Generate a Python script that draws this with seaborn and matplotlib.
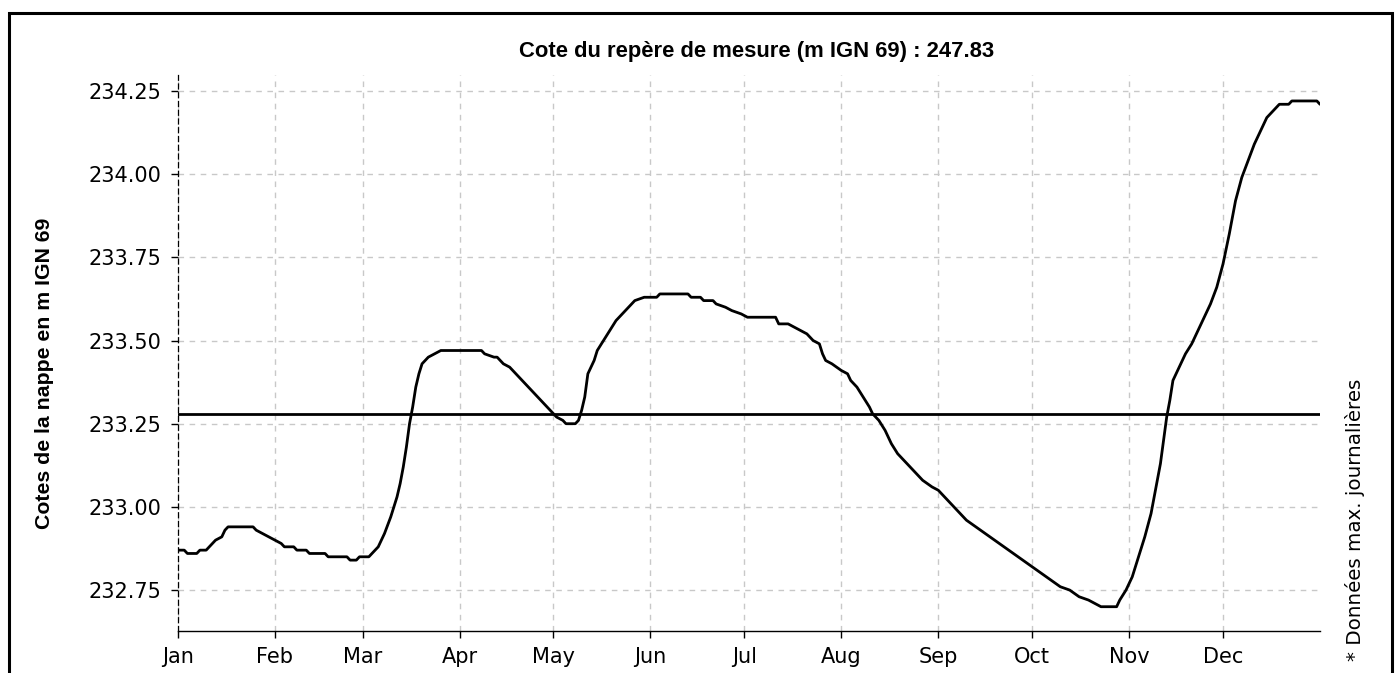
import pandas as pd
import numpy as np
import matplotlib
matplotlib.use("Agg")
import matplotlib.pyplot as plt
import matplotlib.dates as mdates
from matplotlib.patches import Rectangle
import seaborn as sns

# ---- data (day of year 2023, water level m IGN 69) ----
days = [0, 2, 3, 6, 7, 9, 11, 12, 14, 15, 16, 24, 25, 27, 29, 31, 33, 34, 37, 38,
        41, 42, 47, 48, 54, 55, 57, 58, 61, 63, 64, 66, 68, 70, 71, 72, 73, 74, 75, 76,
        77, 78, 80, 82, 84, 97, 98, 101, 102, 104, 106, 108, 110, 112, 114, 116, 118, 120, 121, 123,
        124, 127, 128, 129, 130, 131, 133, 134, 136, 138, 140, 142, 144, 146, 149, 153, 154, 163, 164, 167,
        168, 171, 172, 175, 177, 180, 182, 191, 192, 195, 197, 199, 201, 203, 205, 206, 207, 209, 212, 214,
        215, 217, 219, 221, 222, 224, 226, 228, 230, 232, 235, 238, 241, 243, 245, 247, 249, 252, 255, 258,
        261, 264, 267, 270, 273, 276, 279, 282, 285, 288, 291, 293, 295, 300, 301, 303, 305, 307, 309, 311,
        312, 314, 315, 316, 317, 318, 320, 322, 324, 326, 328, 330, 332, 334, 336, 338, 340, 342, 344, 346,
        348, 350, 351, 352, 355, 356, 364, 365]
levels = [232.87, 232.87, 232.86, 232.86, 232.87, 232.87, 232.89, 232.90, 232.91, 232.93, 232.94, 232.94, 232.93, 232.92, 232.91, 232.90, 232.89, 232.88, 232.88, 232.87,
          232.87, 232.86, 232.86, 232.85, 232.85, 232.84, 232.84, 232.85, 232.85, 232.87, 232.88, 232.92, 232.97, 233.03, 233.07, 233.12, 233.18, 233.25, 233.30, 233.36,
          233.40, 233.43, 233.45, 233.46, 233.47, 233.47, 233.46, 233.45, 233.45, 233.43, 233.42, 233.40, 233.38, 233.36, 233.34, 233.32, 233.30, 233.28, 233.27, 233.26,
          233.25, 233.25, 233.26, 233.29, 233.33, 233.40, 233.44, 233.47, 233.50, 233.53, 233.56, 233.58, 233.60, 233.62, 233.63, 233.63, 233.64, 233.64, 233.63, 233.63,
          233.62, 233.62, 233.61, 233.60, 233.59, 233.58, 233.57, 233.57, 233.55, 233.55, 233.54, 233.53, 233.52, 233.50, 233.49, 233.46, 233.44, 233.43, 233.41, 233.40,
          233.38, 233.36, 233.33, 233.30, 233.28, 233.26, 233.23, 233.19, 233.16, 233.14, 233.11, 233.08, 233.06, 233.05, 233.03, 233.01, 232.99, 232.96, 232.94, 232.92,
          232.90, 232.88, 232.86, 232.84, 232.82, 232.80, 232.78, 232.76, 232.75, 232.73, 232.72, 232.71, 232.70, 232.70, 232.72, 232.75, 232.79, 232.85, 232.91, 232.98,
          233.03, 233.13, 233.20, 233.27, 233.32, 233.38, 233.42, 233.46, 233.49, 233.53, 233.57, 233.61, 233.66, 233.73, 233.82, 233.92, 233.99, 234.04, 234.09, 234.13,
          234.17, 234.19, 234.20, 234.21, 234.21, 234.22, 234.22, 234.21]
reference_level = 233.28
title_text = "Cote du repère de mesure (m IGN 69) : 247.83"
ylabel_text = "Cotes de la nappe en m IGN 69"
note_text = "* Données max. journalières"
yticks = [232.75, 233.00, 233.25, 233.50, 233.75, 234.00, 234.25]
month_labels = ["Jan", "Feb", "Mar", "Apr", "May", "Jun", "Jul", "Aug", "Sep", "Oct", "Nov", "Dec"]

dates = pd.Timestamp("2023-01-01") + pd.to_timedelta(days, unit="D")
df = pd.DataFrame({"date": dates, "level": levels})

sns.set_style("white")
plt.rcParams["font.family"] = ["DejaVu Sans"]
plt.rcParams["text.color"] = "black"

W, H = 1398, 673
fig = plt.figure(figsize=(W / 100, H / 100), dpi=100)
ax = fig.add_axes([178 / W, 1 - 631 / H, (1320 - 178) / W, (631 - 75) / H])

sns.lineplot(data=df, x="date", y="level", ax=ax, color="black", linewidth=2.0)
ax.axhline(reference_level, color="black", linewidth=2.0)

ax.set_xlim(pd.Timestamp("2023-01-01"), pd.Timestamp("2024-01-01"))
ax.set_ylim(232.627, 234.298)
ax.set_yticks(yticks)
ax.set_yticklabels([f"{v:.2f}" for v in yticks])
month_ticks = pd.date_range("2023-01-01", periods=12, freq="MS")
ax.set_xticks(month_ticks)
ax.set_xticklabels(month_labels)

ax.grid(True, linestyle=(0, (4, 4)), color="#c8c8c8", linewidth=1.0)
ax.set_axisbelow(True)
for s in ["top", "right"]:
    ax.spines[s].set_visible(False)
ax.spines["left"].set_linestyle((0, (4, 3)))
ax.spines["left"].set_linewidth(0.9)
ax.spines["left"].set_color("black")
ax.spines["bottom"].set_linewidth(1.0)
ax.spines["bottom"].set_color("black")
ax.tick_params(axis="both", which="major", direction="out", length=5, width=1,
               labelsize=15, color="black", labelcolor="black", left=True, bottom=True)
ax.tick_params(axis="y", pad=7)
ax.tick_params(axis="x", pad=6.5)
ax.set_xlabel("")
ax.set_ylabel("")

fig.text(757 / W, 1 - 52 / H, title_text, ha="center", va="center", color="black",
         fontsize=15.8, fontweight="bold", family=["Liberation Sans", "DejaVu Sans"])
fig.text(45 / W, 1 - 373 / H, ylabel_text, ha="center", va="center", rotation=90, color="black",
         fontsize=15.3, fontweight="bold", family=["Liberation Sans", "DejaVu Sans"])
fig.text(1355 / W, 1 - 520 / H, note_text, ha="center", va="center", rotation=90,
         color="black", fontsize=14.3)

fig.patches.append(Rectangle((8.5 / W, -0.1), (1391.5 - 8.5) / W, 1.1 - 13.5 / H,
                             transform=fig.transFigure, fill=False, edgecolor="black",
                             linewidth=2.2, clip_on=False))

fig.savefig("out.png", dpi=100)
